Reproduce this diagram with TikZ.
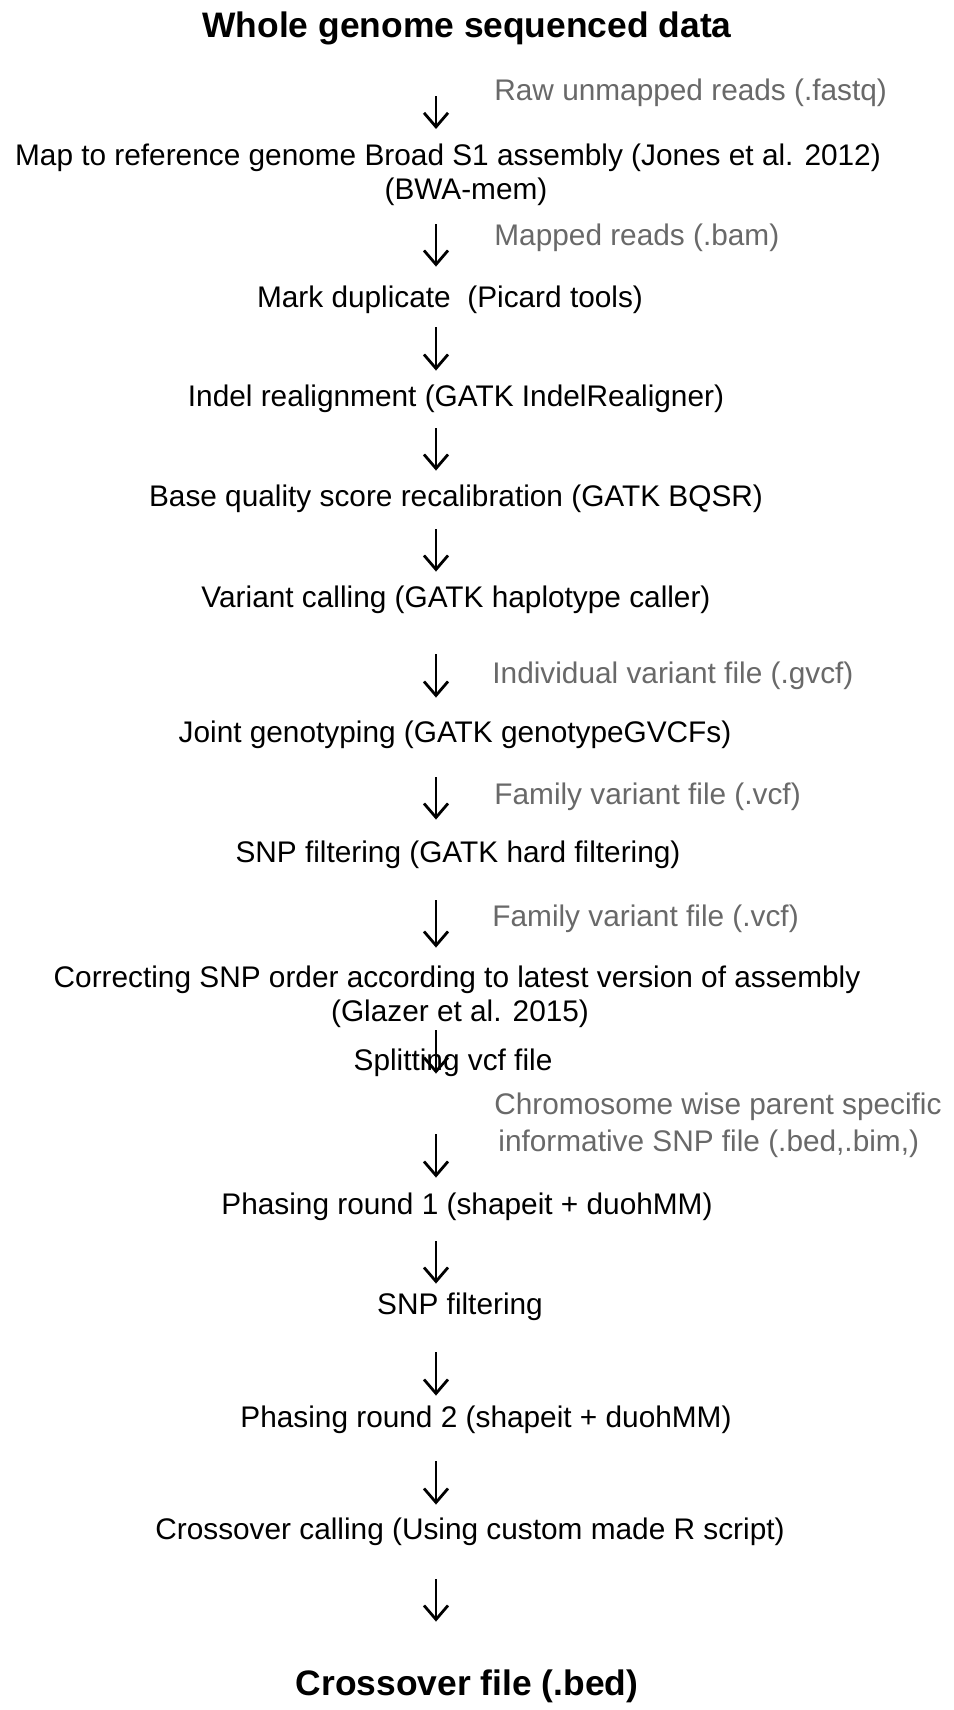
\documentclass[tikz,border=0pt]{standalone}
\usepackage{fontspec}
\setmainfont{Liberation Sans}
\usepackage{xcolor}
\usepackage{tikz}
\usetikzlibrary{arrows.meta}
\definecolor{labelgray}{RGB}{105,105,105}
\tikzset{
  stepnode/.style={anchor=base, inner sep=0pt,
    font=\fontsize{14.9}{18}\selectfont, text height=10.6pt, text depth=3pt},
  endnode/.style={anchor=base, inner sep=0pt,
    font=\fontsize{17.7}{21}\selectfont\bfseries, text height=12.7pt, text depth=3.7pt},
  filenote/.style={anchor=base west, inner sep=0pt, text=labelgray,
    font=\fontsize{14.9}{18}\selectfont},
  flow/.style={-{Straight Barb[length=7pt,width=12pt]}, line width=1.4pt}
}

\begin{document}
\begin{tikzpicture}[x=0.5pt, y=-0.5pt]
  \useasboundingbox (0,0) rectangle (954,1710);
  \fill[white] (0,0) rectangle (954,1710);
  \coordinate (ax) at (436,0);

  % Input and output
  \node[endnode] (title) at (467,37) {Whole genome sequenced data};
  \node[endnode] (xfile) at (467,1695) {Crossover file (.bed)};

  % Pipeline steps
  \node[stepnode] (map) at (448,165) {Map to reference genome Broad S1 assembly (Jones et al. 2012)};
  \node[stepnode] (bwa) at (466,199) {(BWA-mem)};
  \node[stepnode] (mark) at (450,307) {Mark duplicate\ \ (Picard tools)};
  \node[stepnode] (indel) at (456,406) {Indel realignment (GATK IndelRealigner)};
  \node[stepnode] (bqsr) at (456,506) {Base quality score recalibration (GATK BQSR)};
  \node[stepnode] (call) at (456,607) {Variant calling (GATK haplotype caller)};
  \node[stepnode] (joint) at (455,742) {Joint genotyping (GATK genotypeGVCFs)};
  \node[stepnode] (hard) at (458,862) {SNP filtering (GATK hard filtering)};
  \node[stepnode] (order) at (457,987) {Correcting SNP order according to latest version of assembly};
  \node[stepnode] (glazer) at (460,1021) {(Glazer et al. 2015)};
  \node[stepnode] (split) at (453,1070) {Splitting vcf file};
  \node[stepnode] (phase1) at (467,1214) {Phasing round 1 (shapeit + duohMM)};
  \node[stepnode] (snpf) at (460,1314) {SNP filtering};
  \node[stepnode] (phase2) at (486,1427) {Phasing round 2 (shapeit + duohMM)};
  \node[stepnode] (xcall) at (470,1539) {Crossover calling (Using custom made R script)};

  % File labels
  \node[filenote] (raw) at (494,100) {Raw unmapped reads (.fastq)};
  \node[filenote] (bam) at (494,245) {Mapped reads (.bam)};
  \node[filenote] (gvcf) at (492,683) {Individual variant file (.gvcf)};
  \node[filenote] (vcfa) at (494,804) {Family variant file (.vcf)};
  \node[filenote] (vcfb) at (492,926) {Family variant file (.vcf)};
  \node[filenote] (chrom) at (494,1114) {Chromosome wise parent specific};
  \node[filenote] (chromb) at (498,1151) {informative SNP file (.bed,.bim,)};

  % Arrows
  \draw[flow, shorten <=25.8pt, shorten >=7.2pt] (title.south -| ax) -- (map.north -| ax);
  \draw[flow, shorten <=9.5pt, shorten >=9.4pt] (bwa.south -| ax) -- (mark.north -| ax);
  \draw[flow, shorten <=7pt, shorten >=6.9pt] (mark.south -| ax) -- (indel.north -| ax);
  \draw[flow, shorten <=8pt, shorten >=6.9pt] (indel.south -| ax) -- (bqsr.north -| ax);
  \draw[flow, shorten <=8.5pt, shorten >=6.9pt] (bqsr.south -| ax) -- (call.north -| ax);
  \draw[flow, shorten <=20.5pt, shorten >=11.4pt] (call.south -| ax) -- (joint.north -| ax);
  \draw[flow, shorten <=14.5pt, shorten >=10.4pt] (joint.south -| ax) -- (hard.north -| ax);
  \draw[flow, shorten <=16pt, shorten >=8.9pt] (hard.south -| ax) -- (order.north -| ax);
  \draw[flow, shorten <=1.5pt, shorten >=-12.6pt] (glazer.south -| ax) -- (split.north -| ax);
  \draw[flow, shorten <=29pt, shorten >=7.4pt] (split.south -| ax) -- (phase1.north -| ax);
  \draw[flow, shorten <=10.5pt, shorten >=4.4pt] (phase1.south -| ax) -- (snpf.north -| ax);
  \draw[flow, shorten <=16pt, shorten >=4.9pt] (snpf.south -| ax) -- (phase2.north -| ax);
  \draw[flow, shorten <=14pt, shorten >=6.4pt] (phase2.south -| ax) -- (xcall.north -| ax);
  \draw[flow, shorten <=17pt, shorten >=23.8pt] (xcall.south -| ax) -- (xfile.north -| ax);
\end{tikzpicture}
\end{document}
